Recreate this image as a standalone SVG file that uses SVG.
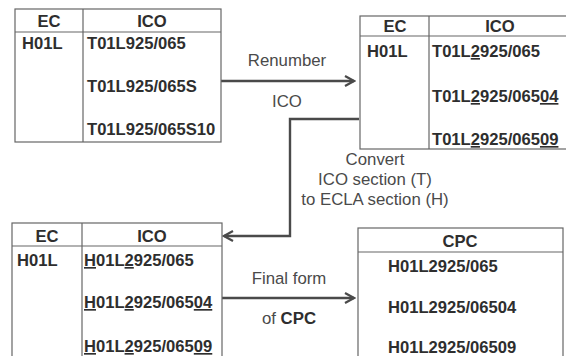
<svg xmlns="http://www.w3.org/2000/svg" width="566" height="356" viewBox="0 0 566 356">
<style>
.box{fill:#fff;stroke:#666;stroke-width:1.2}
.ln{stroke:#666;stroke-width:1.2;fill:none}
.t{font-family:"Liberation Sans",Arial,sans-serif;font-size:16.6px;font-weight:bold;fill:#2e2e2e}
.h{text-anchor:middle}
.lab{font-family:"Liberation Sans",Arial,sans-serif;font-size:16.8px;fill:#4a4a4a;text-anchor:middle}
.con{fill:none;stroke:#4a4a4a;stroke-width:2.4}
.u{text-decoration:underline}
</style>
<defs>
<marker id="arr" markerWidth="12" markerHeight="12" refX="10" refY="6" orient="auto" markerUnits="userSpaceOnUse">
<path d="M1,1 L10,6 L1,11" fill="none" stroke="#4a4a4a" stroke-width="2.2"/>
</marker>
</defs>
<rect width="566" height="356" fill="#fff"/>
<g id="connectors">
<path class="con" d="M221,81 H354" marker-end="url(#arr)"/>
<path class="con" d="M359,119 H290 V236 H224" stroke-width="2" marker-end="url(#arr)"/>
<path class="con" d="M222,298 H354" marker-end="url(#arr)"/>
<text class="lab" x="287" y="66">Renumber</text>
<text class="lab" x="287" y="107">ICO</text>
<text class="lab" x="375" y="165">Convert</text>
<text class="lab" x="375" y="185">ICO section (T)</text>
<text class="lab" x="375" y="205">to ECLA section (H)</text>
<text class="lab" x="289" y="284">Final form</text>
<text class="lab" x="289" y="324">of <tspan font-weight="bold" fill="#2e2e2e">CPC</tspan></text>
</g>
<g id="table-ec-ico-original">
<rect class="box" x="15" y="9" width="206" height="133"/>
<line class="ln" x1="15" y1="32" x2="221" y2="32"/>
<line class="ln" x1="83" y1="9" x2="83" y2="142"/>
<text class="t h" x="49" y="27">EC</text>
<text class="t h" x="152" y="27">ICO</text>
<text class="t" x="22" y="49">H01L</text>
<text class="t" x="87" y="49">T01L925/065</text>
<text class="t" x="87" y="92">T01L925/065S</text>
<text class="t" x="87" y="135">T01L925/065S10</text>
</g>
<g id="table-ec-ico-renumbered">
<rect class="box" x="360" y="16" width="212" height="133"/>
<line class="ln" x1="360" y1="36" x2="572" y2="36"/>
<line class="ln" x1="429" y1="16" x2="429" y2="149"/>
<text class="t h" x="395" y="32">EC</text>
<text class="t h" x="500" y="32">ICO</text>
<text class="t" x="367" y="57">H01L</text>
<text class="t" x="432" y="57">T01L<tspan class="u">2</tspan>925/065</text>
<text class="t" x="432" y="102">T01L<tspan class="u">2</tspan>925/065<tspan class="u">04</tspan></text>
<text class="t" x="432" y="145">T01L<tspan class="u">2</tspan>925/065<tspan class="u">09</tspan></text>
</g>
<g id="table-ec-ico-converted">
<rect class="box" x="12" y="223" width="210" height="140"/>
<line class="ln" x1="12" y1="246" x2="222" y2="246"/>
<line class="ln" x1="82" y1="223" x2="82" y2="363"/>
<text class="t h" x="47" y="242">EC</text>
<text class="t h" x="152" y="242">ICO</text>
<text class="t" x="17" y="266">H01L</text>
<text class="t" x="84" y="266"><tspan class="u">H</tspan>01L<tspan class="u">2</tspan>925/065</text>
<text class="t" x="84" y="308"><tspan class="u">H</tspan>01L<tspan class="u">2</tspan>925/065<tspan class="u">04</tspan></text>
<text class="t" x="84" y="352"><tspan class="u">H</tspan>01L<tspan class="u">2</tspan>925/065<tspan class="u">09</tspan></text>
</g>
<g id="table-cpc">
<rect class="box" x="358" y="228" width="205" height="135"/>
<line class="ln" x1="358" y1="252" x2="563" y2="252"/>
<text class="t h" x="460" y="247">CPC</text>
<text class="t" x="388" y="272">H01L2925/065</text>
<text class="t" x="388" y="313">H01L2925/06504</text>
<text class="t" x="388" y="353">H01L2925/06509</text>
</g>
</svg>
